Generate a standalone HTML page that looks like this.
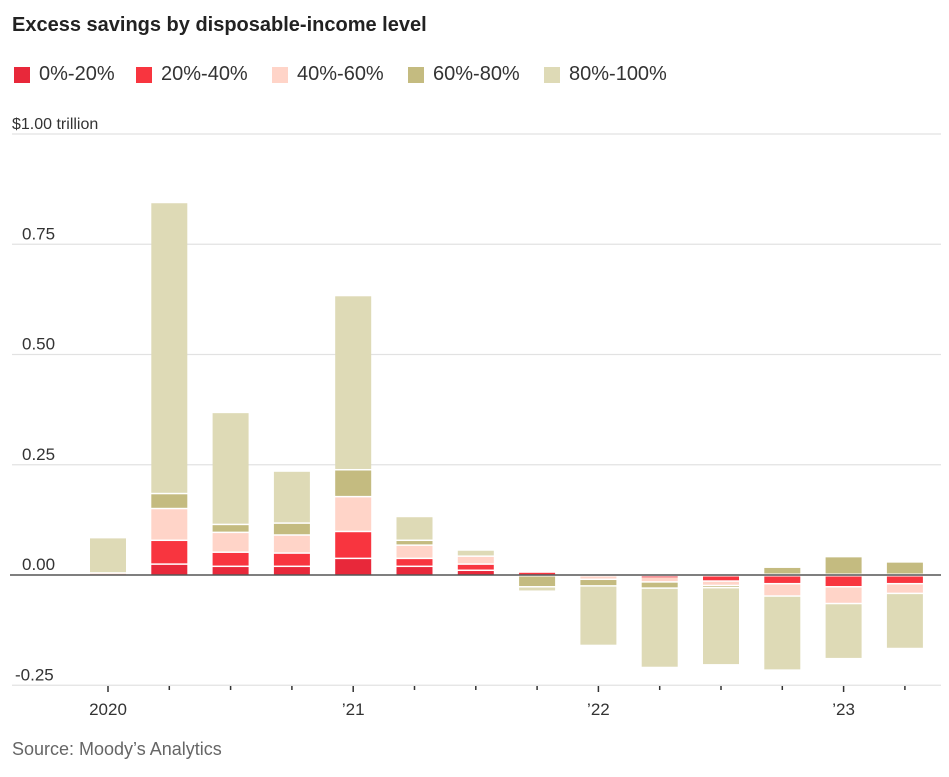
<!DOCTYPE html>
<html><head><meta charset="utf-8"><style>
body{margin:0;background:#fff;width:949px;height:777px;overflow:hidden;font-family:"Liberation Sans",sans-serif}
.t{position:absolute;left:12px;top:14px;font-size:20px;font-weight:bold;color:#222}
.lg{position:absolute;top:63px;font-size:20px;color:#333;display:flex;align-items:center}
.sw{width:16px;height:16px;margin-right:9px;display:inline-block}
.src{position:absolute;left:12px;top:739px;font-size:18px;color:#666}
</style></head><body>
<div class="t">Excess savings by disposable-income level</div>
<div class="lg" style="left:14px"><span class="sw" style="background:#e8283a"></span>0%-20%</div>
<div class="lg" style="left:136px"><span class="sw" style="background:#f8353f"></span>20%-40%</div>
<div class="lg" style="left:272px"><span class="sw" style="background:#ffd4c8"></span>40%-60%</div>
<div class="lg" style="left:408px"><span class="sw" style="background:#c4bb80"></span>60%-80%</div>
<div class="lg" style="left:544px"><span class="sw" style="background:#dedab6"></span>80%-100%</div>
<svg id="c" width="949" height="777" style="position:absolute;left:0;top:0"></svg>
<div class="src">Source: Moody’s Analytics</div>
<script>
const categories=["2020Q1","2020Q2","2020Q3","2020Q4","2021Q1","2021Q2","2021Q3","2021Q4","2022Q1","2022Q2","2022Q3","2022Q4","2023Q1","2023Q2"];
const s0_20=[0,0.023,0.018,0.018,0.036,0.018,0.009,0.002,0,-0.002,0,0,0,0];
const s20_40=[0,0.054,0.032,0.03,0.061,0.018,0.014,0.003,0,0,-0.012,-0.018,-0.025,-0.018];
const s40_60=[0.003,0.072,0.045,0.041,0.079,0.03,0.018,0,-0.008,-0.012,-0.01,-0.028,-0.038,-0.022];
const s60_80=[0,0.034,0.018,0.027,0.061,0.011,0,-0.025,-0.015,-0.014,-0.005,0.016,0.04,0.028];
const s80_100=[0.08,0.66,0.254,0.118,0.395,0.054,0.014,-0.01,-0.135,-0.18,-0.175,-0.168,-0.125,-0.125];
const yTicks=[-0.25,0,0.25,0.5,0.75,1];
const yLabels=["-0.25","0.00","0.25","0.50","0.75","$1.00 trillion"];
const xLabels=["2020","","","","’21","","","","’22","","","","’23",""];
const series=[s0_20,s20_40,s40_60,s60_80,s80_100];
const colors=["#e8283a","#f8353f","#ffd4c8","#c4bb80","#dedab6"];
const names=["0-20","20-40","40-60","60-80","80-100"];
const svg=document.getElementById('c');const NS="http://www.w3.org/2000/svg";
const y=v=>575-v*441;
const x=i=>108+i*61.3;
function mk(t,a){const e=document.createElementNS(NS,t);for(const k in a)e.setAttribute(k,a[k]);svg.appendChild(e);return e;}
yTicks.forEach((v,i)=>{
 if(v!==0){const g=mk('line',{x1:12,x2:941,y1:y(v),y2:y(v),stroke:'#e2e2e2','stroke-width':1.3});
 
 }
 const t=mk('text',{x:v<0?15:(i===5?12:22),y:y(v)-5,'font-size':i===5?16:17,fill:'#333','font-family':'Liberation Sans'});t.textContent=yLabels[i];
 
 
});
categories.forEach((c,i)=>{
 let pos=0,neg=0;
 series.forEach((s,k)=>{const v=s[i];if(!v)return;let top,bot;
  if(v>0){bot=pos;pos+=v;top=pos;}else{top=neg;neg+=v;bot=neg;}
  const h=Math.max(0.5,y(bot)-y(top)-(k>0&&Math.abs(v)>0.004?1.5:0));
  const r=mk('rect',{x:x(i)-18,y:v>0?y(top):y(top)+1.5,width:36,height:h,fill:colors[k]});
  
  });
 const tk=mk('line',{x1:x(i),x2:x(i),y1:686,y2:xLabels[i]?692:690,stroke:'#333','stroke-width':1.5});
 
 
 if(xLabels[i]){const t=mk('text',{x:x(i),y:715,'font-size':17,fill:'#333','text-anchor':'middle','font-family':'Liberation Sans'});t.textContent=xLabels[i];
 
 }
});
const z=mk('line',{x1:10,x2:941,y1:575,y2:575,stroke:'#555','stroke-width':1.5});


</script>
</body></html>
